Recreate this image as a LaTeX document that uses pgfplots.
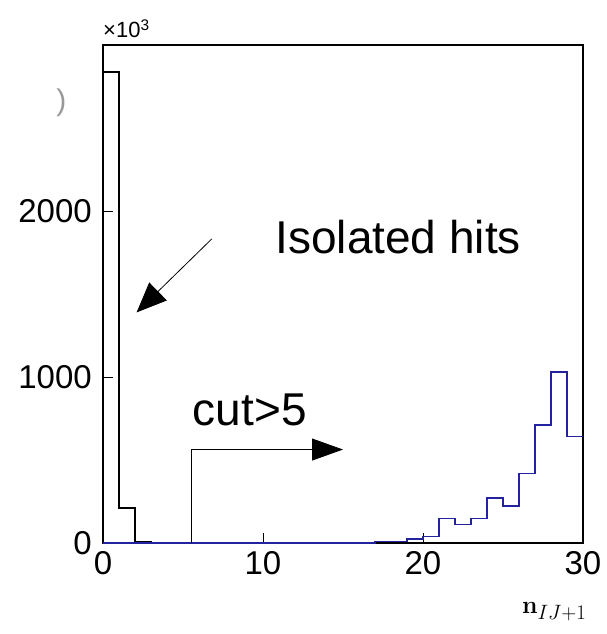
\documentclass[border=0pt]{standalone}
\usepackage{pgfplots}
\pgfplotsset{compat=1.18}
\usepackage[no-math]{fontspec}
\setmainfont{Liberation Sans}
\usetikzlibrary{arrows.meta}
\definecolor{histblue}{RGB}{35,35,160}

\begin{document}
\begin{tikzpicture}
\useasboundingbox (-103pt,-91pt) rectangle (504pt,543pt);
\begin{axis}[
  at={(0pt,0pt)}, anchor=south west,
  width=480pt, height=498pt, scale only axis,
  xmin=0, xmax=30, ymin=0, ymax=3000,
  xtick={0,10,20,30}, ytick={0,1000,2000},
  xticklabels={0,10,20,30}, yticklabels={0,1000,2000},
  scaled ticks=false,
  tick align=inside, major tick length=10pt, tick pos=left,
  tick style={black, line width=0.8pt},
  axis line style={line width=1.4pt},
  tick label style={font=\fontsize{33}{36}\selectfont},
  xticklabel style={inner sep=2pt, yshift=-6pt},
  yticklabel style={inner sep=2pt, xshift=-9pt},
  clip=false,
]
% hits with no neighbour
\addplot[black, line width=1.4pt, const plot mark left]
  coordinates {(0,0)(0,2838)(1,210)(2,10)(3,0)(30,0)};
% hits with neighbours
\addplot[histblue, line width=1.4pt, const plot mark left]
  coordinates {(0,0)(17,10)(18,10)(19,25)(20,38)(21,148)(22,112)(23,148)
               (24,271)(25,222)(26,417)(27,711)(28,1030)(29,641)(30,641)};

\draw[line width=0.8pt, -{Triangle[length=30pt,width=25pt]}]
  (axis cs:6.8,1832) -- (axis cs:2.1,1389);
\draw[line width=0.8pt, -{Triangle[length=31pt,width=22pt]}]
  (axis cs:5.53,0) |- (axis cs:15,563);

\node[anchor=base, inner sep=0pt, font=\fontsize{46}{50}\selectfont]
  at (axis cs:18.45,1743) {Isolated hits};
\node[anchor=base west, inner sep=0pt, font=\fontsize{46}{50}\selectfont]
  at (axis cs:5.6,707) {cut>5};

\node[anchor=base west, inner sep=0pt, font=\fontsize{22}{24}\selectfont]
  at (axis cs:0,3000) [yshift=7pt] {×10\textsuperscript{3}};
\node[gray!80, font=\fontsize{30}{32}\selectfont] at (axis cs:-2.6,2650) {)};
\node[font=\fontsize{28}{30}\selectfont]
  at (axis cs:28.2,-413) {$\mathbf{n}_{IJ+1}$};
\end{axis}
\end{tikzpicture}
\end{document}
